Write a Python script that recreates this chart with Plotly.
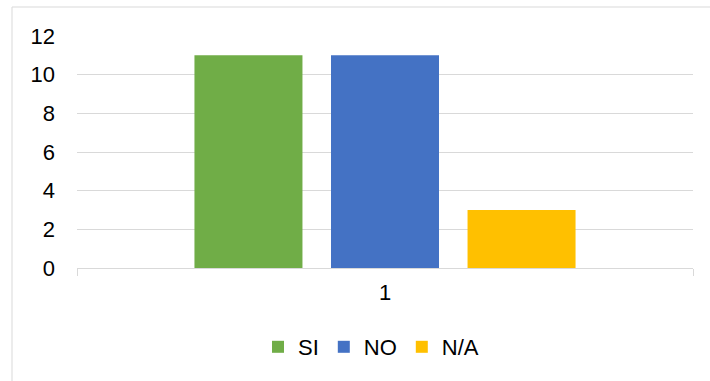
import plotly.graph_objects as go

categories = ["1"]
series_names = ["SI", "NO", "N/A"]
series_values = [[11], [11], [3]]
series_colors = ["#70AD47", "#4472C4", "#FFC000"]
y_ticks = [0, 2, 4, 6, 8, 10, 12]

W, H = 710, 381
L, R, T, B = 77, 17, 36, 113
pw, ph = W - L - R, H - T - B

fig = go.Figure()
for name, vals, col in zip(series_names, series_values, series_colors):
    fig.add_trace(go.Bar(x=categories, y=vals, name=name, marker=dict(color=col, line=dict(width=0))))

fig.update_layout(
    width=W, height=H,
    margin=dict(l=L, r=R, t=T, b=B, pad=0),
    paper_bgcolor="white", plot_bgcolor="white",
    barmode="group", bargap=0.335, bargroupgap=0.209,
    font=dict(family="Liberation Sans, Arial, sans-serif", size=22, color="#000000"),
    showlegend=True,
    legend=dict(orientation="h", x=(371 - L) / pw, xanchor="center",
                y=1 - (347 - T) / ph, yanchor="middle",
                font=dict(size=22), itemwidth=30, tracegroupgap=0,
                bgcolor="rgba(0,0,0,0)"),
)
fig.update_yaxes(range=[0, 12], tickvals=y_ticks, showgrid=True, gridcolor="#D9D9D9",
                 gridwidth=1, zeroline=False, showline=False, ticks="",
                 ticklabelstandoff=21)
fig.update_xaxes(type="category", showgrid=False, showline=True, linecolor="#D9D9D9",
                 linewidth=1, ticks="outside", tickson="boundaries", ticklen=7,
                 tickcolor="#D9D9D9", tickwidth=1, ticklabelstandoff=5)

fig.add_shape(type="rect", xref="paper", yref="paper",
              x0=(12 - L) / pw, x1=1.2, y0=-0.6, y1=1 + (T - 7) / ph,
              line=dict(color="#D9D9D9", width=1), fillcolor="rgba(0,0,0,0)", layer="below")

fig.write_html("out.html")
